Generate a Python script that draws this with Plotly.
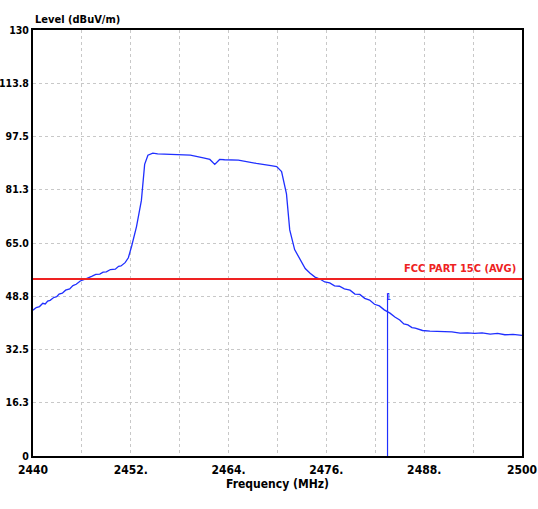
import plotly.graph_objects as go

freq = [2440.0, 2440.4, 2440.8, 2441.2, 2441.5, 2441.8, 2442.1, 2442.5, 2442.9, 2443.2, 2443.6,
        2444.0, 2444.5, 2444.9, 2445.3, 2445.8, 2446.4, 2446.8, 2447.2, 2447.7, 2448.2, 2448.6,
        2449.0, 2449.5, 2450.1, 2450.5, 2450.8, 2451.3, 2451.7, 2452.1, 2452.7, 2453.3, 2453.7,
        2454.1, 2454.7, 2455.3, 2457.0, 2459.3, 2460.9, 2461.7, 2462.3, 2462.9, 2463.5, 2465.2,
        2467.4, 2468.8, 2469.2, 2469.9, 2470.5, 2471.1, 2471.5, 2472.1, 2472.8, 2473.4, 2474.0,
        2474.6, 2475.2, 2475.8, 2476.4, 2477.0, 2477.6, 2478.2, 2478.9, 2479.5, 2480.1, 2480.7,
        2481.3, 2481.9, 2482.5, 2483.1, 2483.8, 2484.4, 2485.0, 2485.5, 2486.0, 2486.5, 2486.9,
        2487.8, 2488.7, 2489.6, 2490.5, 2491.4, 2492.4, 2493.3, 2494.2, 2495.1, 2496.1, 2497.0,
        2497.9, 2498.9, 2500.0]
level = [44.5, 45.3, 45.6, 46.6, 46.4, 47.3, 47.5, 48.3, 48.6, 49.4, 49.7,
         50.6, 51.0, 52.0, 52.4, 53.4, 54.0, 54.3, 54.8, 55.4, 55.5, 56.1,
         56.2, 56.9, 57.0, 57.9, 58.0, 59.0, 60.5, 64.0, 70.0, 78.0, 89.0,
         91.8, 92.4, 92.2, 92.1, 91.8, 91.0, 90.5, 89.0, 90.5, 90.4, 90.3,
         89.3, 88.9, 88.6, 88.3, 86.8, 80.0, 69.0, 63.0, 59.8, 57.2, 55.8,
         54.6, 54.0, 53.1, 52.8, 51.9, 51.8, 51.0, 50.6, 49.4, 49.3, 48.1,
         47.6, 46.3, 45.8, 44.6, 43.6, 42.4, 41.5, 40.3, 40.0, 39.2, 39.0,
         38.3, 38.1, 38.0, 37.8, 37.9, 37.5, 37.6, 37.4, 37.6, 37.2, 37.4,
         37.0, 37.1, 36.8]

limit_freq = [2440, 2500]
limit_level = [54, 54]
limit_label = "FCC PART 15C (AVG)"

marker_freq = [2483.5, 2483.5]
marker_level = [0, 49.5]
marker_label = "1"

x_ticks = [2440, 2452, 2464, 2476, 2488, 2500]
x_ticktext = ["2440", "2452.", "2464.", "2476.", "2488.", "2500"]
y_ticks = [0, 16.25, 32.5, 48.75, 65, 81.25, 97.5, 113.75, 130]
y_ticktext = ["0", "16.3", "32.5", "48.8", "65.0", "81.3", "97.5", "113.8", "130"]

FONT = "DejaVu Sans Condensed, Liberation Sans Narrow, Arial Narrow, Liberation Sans"

fig = go.Figure()
fig.add_trace(go.Scatter(x=freq, y=level, mode="lines",
                         line=dict(color="#1f2fff", width=1.3), showlegend=False))
fig.add_trace(go.Scatter(x=limit_freq, y=limit_level, mode="lines",
                         line=dict(color="#ee2222", width=2), showlegend=False))
fig.add_trace(go.Scatter(x=marker_freq, y=marker_level, mode="lines",
                         line=dict(color="#1f2fff", width=1.2), showlegend=False))

fig.add_annotation(x=2500, y=limit_level[0], xref="x", yref="y", text="<b>" + limit_label + "</b>",
                   showarrow=False, xanchor="right", yanchor="bottom", xshift=-4, yshift=2,
                   font=dict(family=FONT, size=11, color="#ee2222"))
fig.add_annotation(x=marker_freq[0], y=marker_level[1], xref="x", yref="y", text=marker_label,
                   showarrow=False, xanchor="center", yanchor="middle", yshift=-3, xshift=1,
                   font=dict(family=FONT, size=9, color="#1f2fff"))
fig.add_annotation(x=0, y=1, xref="paper", yref="paper", text="<b>Level (dBuV/m)</b>",
                   showarrow=False, xanchor="left", yanchor="bottom", yshift=2,
                   font=dict(family=FONT, size=11, color="black"))

fig.update_layout(
    width=538, height=509,
    margin=dict(l=33, r=16, t=30, b=53),
    paper_bgcolor="white", plot_bgcolor="white",
    font=dict(family=FONT, size=11, color="black"),
)
fig.update_xaxes(
    range=[2440, 2500], tickvals=x_ticks, ticktext=["<b>%s</b>" % t for t in x_ticktext],
    showline=True, linecolor="black", linewidth=2, mirror=True,
    showgrid=True, gridcolor="#c8c8c8", griddash="dot", gridwidth=1,
    minor=dict(dtick=6, tick0=2440, showgrid=True, gridcolor="#c8c8c8", griddash="dot"),
    zeroline=False, ticks="", tickfont=dict(family=FONT, size=12), automargin=False,
    ticklabelstandoff=2,
    title=dict(text="<b>Frequency (MHz)</b>", font=dict(family=FONT, size=12), standoff=2),
)
fig.update_yaxes(
    range=[0, 130], tickvals=y_ticks, ticktext=["<b>%s</b>" % t for t in y_ticktext],
    showline=True, linecolor="black", linewidth=2, mirror=True,
    showgrid=True, gridcolor="#c8c8c8", griddash="dot", gridwidth=1,
    zeroline=False, ticks="", automargin=False, ticklabelstandoff=0,
    tickfont=dict(family=FONT, size=10.5),
)

fig.write_html("out.html", config={"displayModeBar": False},
               post_script="document.body.style.margin='0';document.body.style.overflow='hidden';")
